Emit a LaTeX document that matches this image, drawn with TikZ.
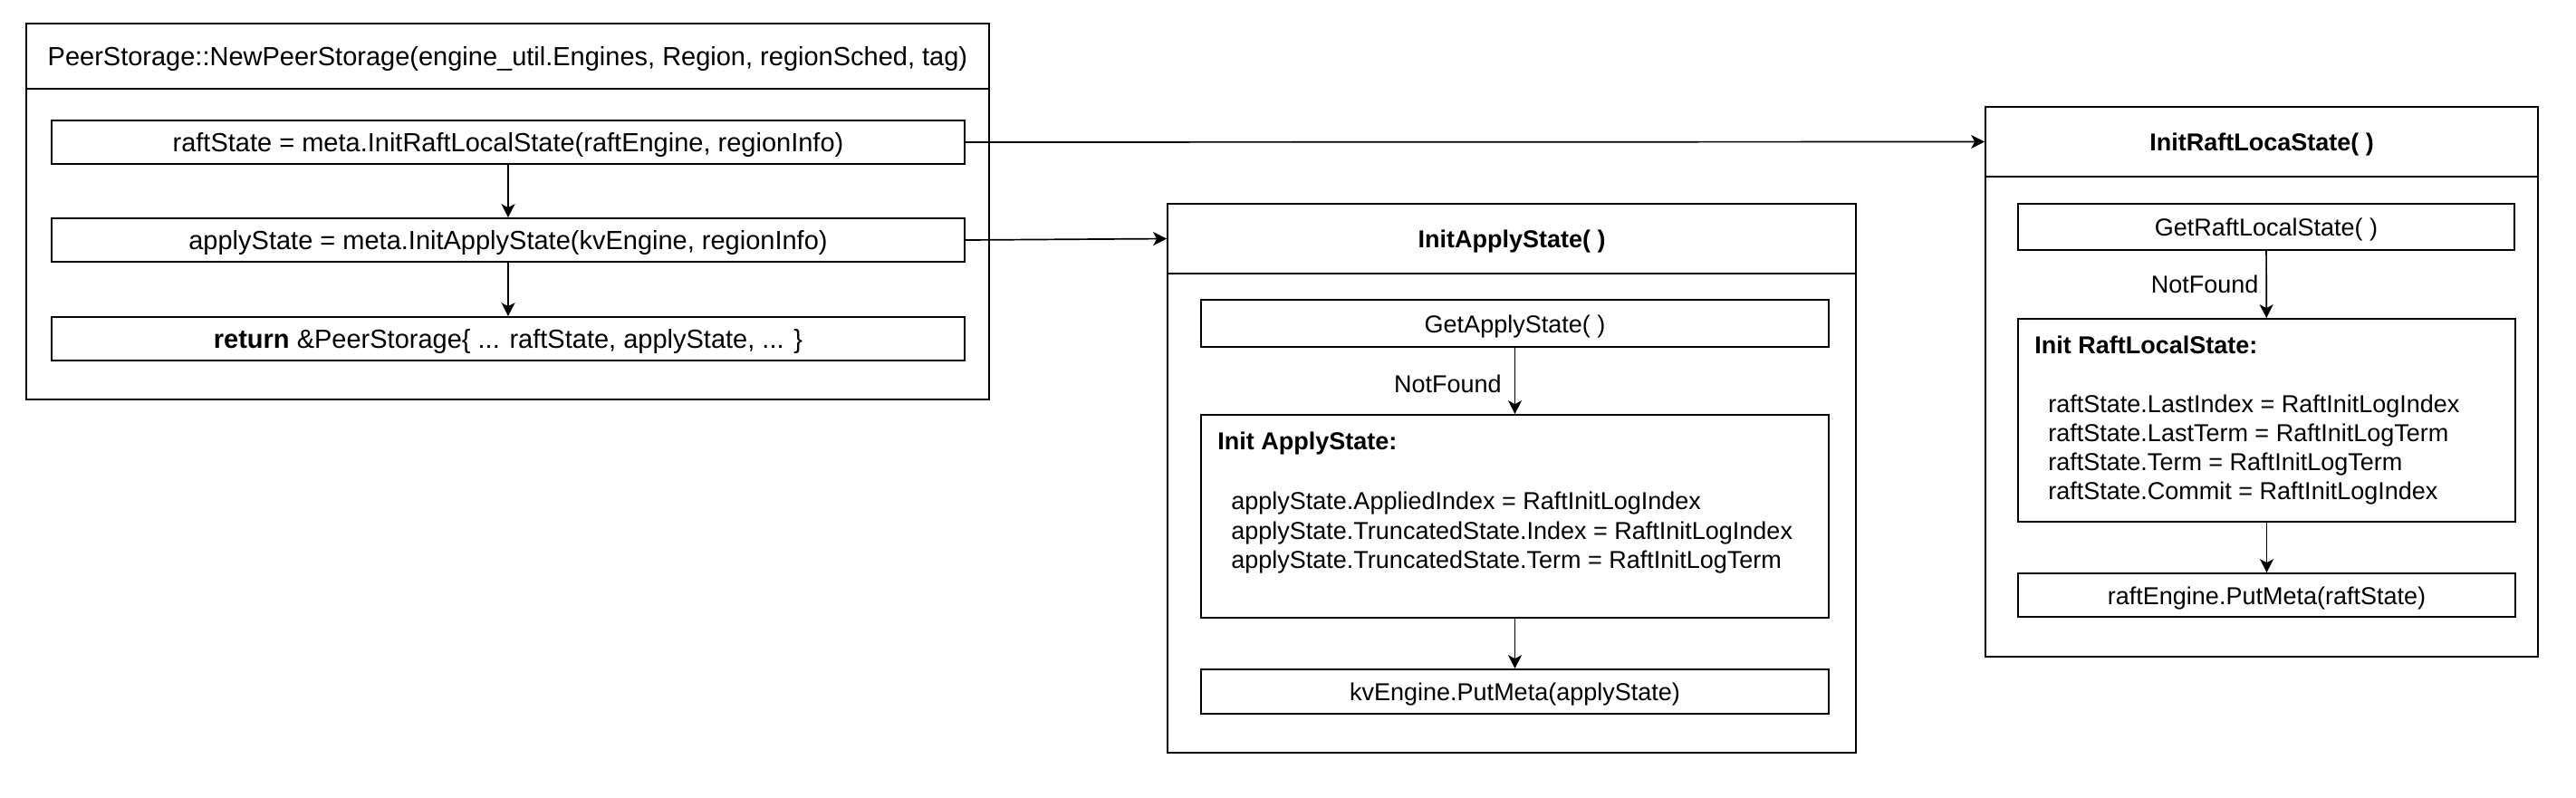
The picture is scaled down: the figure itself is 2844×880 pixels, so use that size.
\documentclass[tikz,border=0pt]{standalone}
\usepackage{fontspec}
\setmainfont{Liberation Sans}
\usetikzlibrary{arrows.meta}
\tikzset{
  box/.style={draw=black, line width=0.85pt, rectangle, inner sep=0pt, align=center, font=\fontsize{13.5pt}{16pt}\selectfont, text height=10pt, text depth=0pt},
  bigtext/.style={font=\fontsize{14.5pt}{17pt}\selectfont, text height=10.7pt, text depth=0pt},
  wh/.style 2 args={minimum width=#1*0.5pt, minimum height=#2*0.5pt},
  txt/.style={inner sep=0pt, anchor=mid west, font=\fontsize{13.5pt}{16pt}\selectfont},
  lbl/.style={inner sep=0pt, font=\fontsize{13.5pt}{16pt}\selectfont},
  conn/.style={line width=0.85pt, -{Stealth[length=7.5pt,width=7.5pt,inset=2pt]}},
}
\begin{document}
\begin{tikzpicture}[x=0.5pt,y=-0.5pt]
\useasboundingbox[fill=white] (0,0) rectangle (2844,880);

% ---- left container ----
\node[box, bigtext, wh={1063}{72}] (lhead) at (560.5,62) {PeerStorage::NewPeerStorage(engine\_util.Engines, Region, regionSched, tag)};
\node[box, wh={1063}{343}] (lbody) at (560.5,269.5) {};
\node[box, bigtext, wh={1008}{48}] (raft) at (561,157) {raftState = meta.InitRaftLocalState(raftEngine, regionInfo)};
\node[box, bigtext, wh={1008}{48}] (app) at (561,265) {applyState = meta.InitApplyState(kvEngine, regionInfo)};
\node[box, bigtext, wh={1008}{48}] (ret) at (561,374) {\textbf{return} \&PeerStorage\{ ... raftState, applyState, ... \}};
\draw[conn] (raft) -- (app);
\draw[conn] (app) -- (ret);

% ---- middle container ----
\node[box, wh={760}{77}] (mhead) at (1669,263.5) {\textbf{InitApplyState( )}};
\node[box, wh={760}{529}] (mbody) at (1669,566.5) {};
\node[box, wh={693}{52}] (getapp) at (1672.5,357) {GetApplyState( )};
\node[box, wh={693}{224}] (initapp) at (1672.5,570) {};
\node[box, wh={693}{49}] (kvput) at (1672.5,763.5) {kvEngine.PutMeta(applyState)};
\node[txt] (ia0) at (1344,491) {\textbf{Init ApplyState:}};
\node[txt] (ia1) at (1359,557) {applyState.AppliedIndex = RaftInitLogIndex};
\node[txt] (ia2) at (1359,590) {applyState.TruncatedState.Index = RaftInitLogIndex};
\node[txt] (ia3) at (1359,622) {applyState.TruncatedState.Term = RaftInitLogTerm};
\draw[conn] (getapp) -- node[lbl, anchor=mid east, pos=0.6, xshift=-7pt] (nf1) {NotFound} (initapp);
\draw[conn] (initapp) -- (kvput);

% ---- right container ----
\node[box, wh={610}{77}] (rhead) at (2497,156.5) {\textbf{InitRaftLocaState( )}};
\node[box, wh={610}{530}] (rbody) at (2497,460) {};
\node[box, wh={548}{51}] (getraft) at (2502,250.5) {GetRaftLocalState( )};
\node[box, wh={549}{224}] (initraft) at (2502.5,464) {};
\node[box, wh={549}{48}] (raftput) at (2502.5,657) {raftEngine.PutMeta(raftState)};
\node[txt] (ir0) at (2246,385) {\textbf{Init RaftLocalState:}};
\node[txt] (ir1) at (2261,450) {raftState.LastIndex = RaftInitLogIndex};
\node[txt] (ir2) at (2261,482) {raftState.LastTerm = RaftInitLogTerm};
\node[txt] (ir3) at (2261,514) {raftState.Term = RaftInitLogTerm};
\node[txt] (ir4) at (2261,546) {raftState.Commit = RaftInitLogIndex};
\draw[conn] (getraft) -- node[lbl, anchor=mid east, pos=0.56, xshift=-4pt] (nf2) {NotFound} (initraft);
\draw[conn] (initraft) -- (raftput);

% ---- cross connectors ----
\draw[conn] (raft.east) -- (rhead.west);
\draw[conn] (app.east) -- (mhead.west);
\end{tikzpicture}
\end{document}
